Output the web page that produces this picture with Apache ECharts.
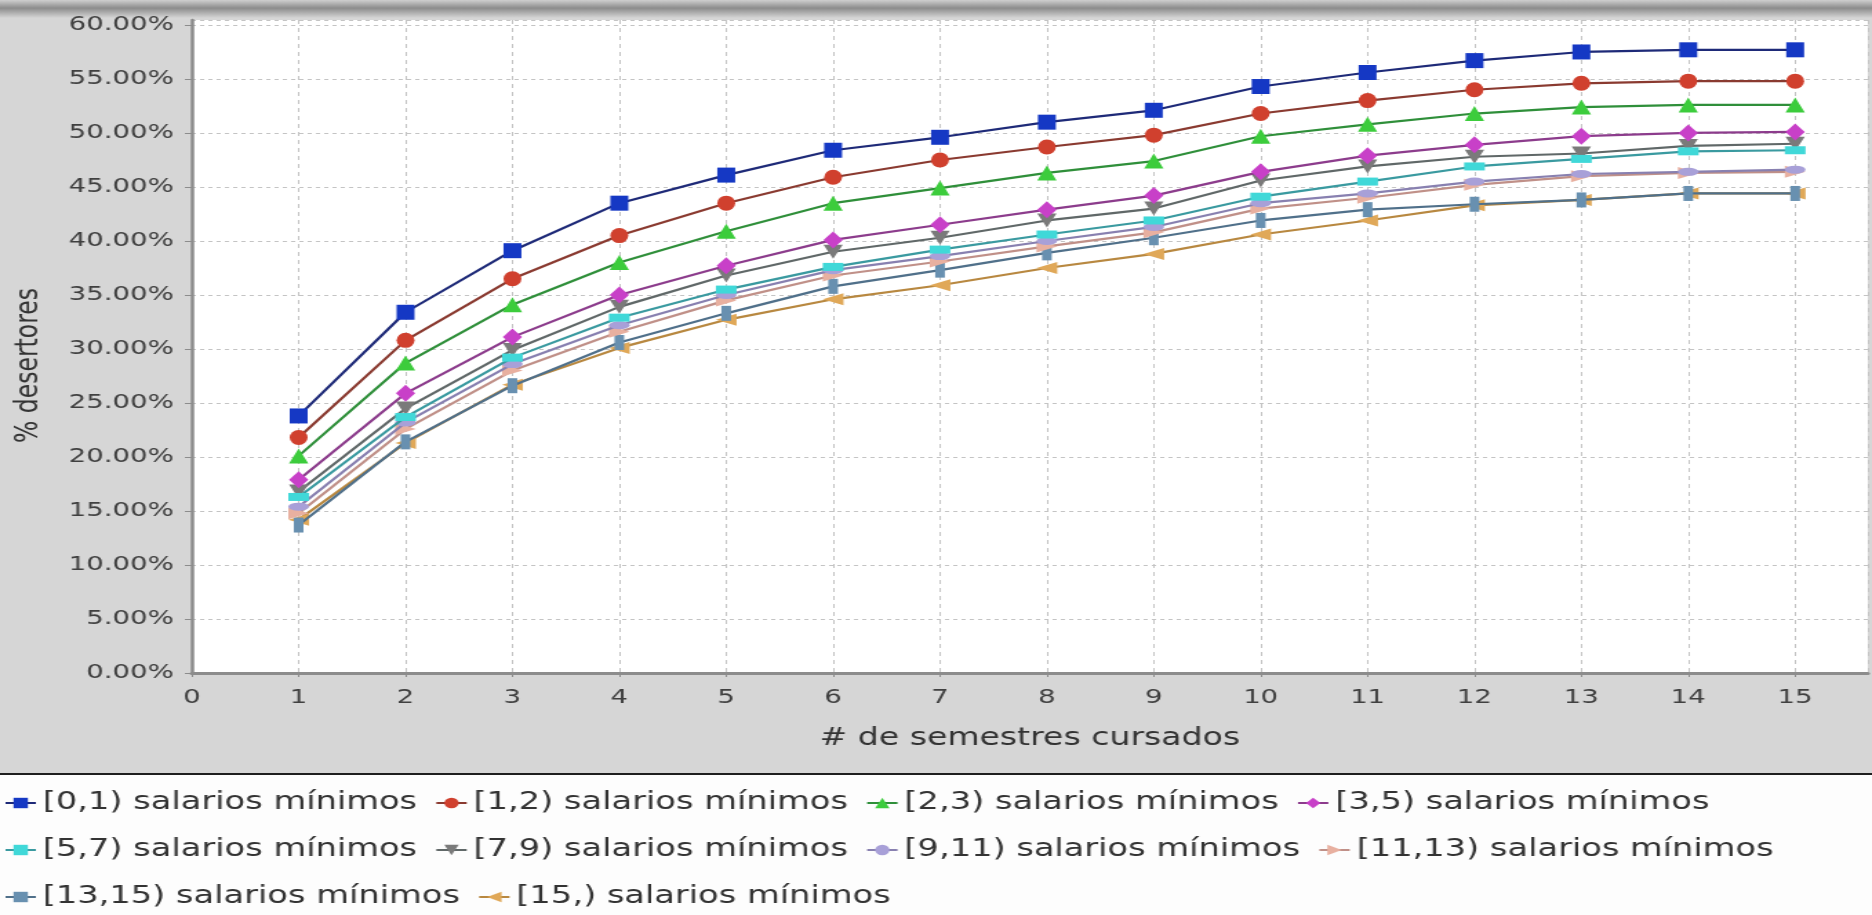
<!DOCTYPE html>
<html>
<head>
<meta charset="utf-8">
<script src="https://cdn.jsdelivr.net/npm/echarts@6/dist/echarts.min.js"></script>
<style>
html,body{margin:0;padding:0;overflow:hidden;background:#fff;}
#chart{width:1357px;height:915px;transform:scaleX(1.3795);transform-origin:0 0;}
</style>
</head>
<body>
<div id="chart"></div>
<script>
// ---- data ----
const semesters = [1,2,3,4,5,6,7,8,9,10,11,12,13,14,15];
const seriesNames = [
  '[0,1) salarios mínimos','[1,2) salarios mínimos','[2,3) salarios mínimos','[3,5) salarios mínimos',
  '[5,7) salarios mínimos','[7,9) salarios mínimos','[9,11) salarios mínimos','[11,13) salarios mínimos',
  '[13,15) salarios mínimos','[15,) salarios mínimos'
];
const s0_1   = [23.8,33.4,39.1,43.5,46.1,48.4,49.6,51.0,52.1,54.3,55.6,56.7,57.5,57.7,57.7];
const s1_2   = [21.8,30.8,36.5,40.5,43.5,45.9,47.5,48.7,49.8,51.8,53.0,54.0,54.6,54.8,54.8];
const s2_3   = [20.1,28.7,34.1,38.0,40.9,43.5,44.9,46.3,47.4,49.7,50.8,51.8,52.4,52.6,52.6];
const s3_5   = [17.9,25.9,31.1,35.0,37.7,40.1,41.5,42.9,44.2,46.4,47.9,48.9,49.7,50.0,50.1];
const s5_7   = [16.3,23.7,29.2,32.9,35.5,37.6,39.2,40.6,41.9,44.1,45.5,46.9,47.6,48.3,48.4];
const s7_9   = [16.8,24.5,29.9,33.9,36.8,39.0,40.3,41.9,43.0,45.6,46.9,47.8,48.1,48.8,49.0];
const s9_11  = [15.4,23.2,28.6,32.2,35.0,37.3,38.6,40.0,41.3,43.5,44.4,45.5,46.2,46.4,46.6];
const s11_13 = [14.8,22.6,28.0,31.6,34.5,36.8,38.1,39.5,40.8,43.0,44.0,45.2,46.0,46.3,46.4];
const s13_15 = [13.7,21.4,26.6,30.6,33.3,35.8,37.3,38.9,40.3,41.9,42.9,43.4,43.8,44.4,44.4];
const s15_   = [14.2,21.3,26.7,30.1,32.7,34.6,35.9,37.5,38.8,40.6,41.9,43.3,43.8,44.4,44.4];
const seriesValues = [s0_1,s1_2,s2_3,s3_5,s5_7,s7_9,s9_11,s11_13,s13_15,s15_];
const yTicks = {min:0, max:60.46, interval:5};
const xTicks = {min:0, max:15.68, interval:1};

// ---- styles ----
const markerColors = ['#1538c4','#d0402e','#3ccc3c','#c840c8','#40d8d8','#7a7a7a','#a8a0d8','#e8b0a0','#6890b0','#e0a858'];
const lineColors   = ['#1e2a78','#8a3a30','#2f8f3a','#8c3c8c','#3a9aa0','#606868','#8880b0','#c09088','#50708a','#b88840'];
const symbols = [
  {s:'rect', size:[13,15], r:0},
  {s:'circle', size:[13,15], r:0},
  {s:'triangle', size:[14,15], r:0},
  {s:'diamond', size:[14,17], r:0},
  {s:'rect', size:[15,8], r:0},
  {s:'triangle', size:[14,14], r:180},
  {s:'circle', size:[15,8], r:0},
  {s:'triangle', size:[12,15], r:-90},
  {s:'rect', size:[7,15], r:0},
  {s:'triangle', size:[12,15], r:90}
];
const FONT = 'DejaVu Sans';
const W = 1357;

const series = seriesValues.map((vals, i) => ({
  name: seriesNames[i],
  type: 'line',
  data: semesters.map((x, j) => [x, vals[j]]),
  symbol: symbols[i].s,
  symbolSize: symbols[i].size,
  symbolRotate: symbols[i].r,
  showAllSymbol: true,
  z: 20 - i,
  lineStyle: {color: lineColors[i], width: 2.2},
  itemStyle: {color: markerColors[i], borderWidth: 0},
  emphasis: {disabled: true}
}));

const chart = echarts.init(document.getElementById('chart'), null, {renderer: 'canvas'});
chart.setOption({
  animation: false,
  backgroundColor: '#fdfdfd',
  graphic: [
    {type:'rect', z:-10, silent:true, shape:{x:0,y:0,width:W,height:774}, style:{fill:'#d6d6d6'}},
    {type:'rect', z:-9, silent:true, shape:{x:0,y:0,width:W,height:18},
      style:{fill:new echarts.graphic.LinearGradient(0,0,0,1,[
        {offset:0,color:'#cfcfcf'},{offset:0.45,color:'#8c8c8c'},{offset:1,color:'#d6d6d6'}])}},
    {type:'rect', z:-9, silent:true, shape:{x:0,y:773,width:W,height:2}, style:{fill:'#1e1e1e'}}
  ],
  grid: {left:139, right:3, top:20, bottom:242, show:true, backgroundColor:'#ffffff', borderWidth:0},
  xAxis: {
    type:'value', min:xTicks.min, max:xTicks.max, interval:xTicks.interval,
    name:'# de semestres cursados', nameLocation:'middle', nameGap:54,
    nameTextStyle:{fontFamily:FONT, fontSize:24, color:'#333'},
    axisLine:{show:true, onZero:false, lineStyle:{color:'#8c8c8c', width:3}},
    axisTick:{show:true, length:4, lineStyle:{color:'#8c8c8c'}},
    axisLabel:{fontFamily:FONT, fontSize:20, color:'#404040', margin:15, showMaxLabel:false},
    splitLine:{show:true, lineStyle:{color:'#c4c4c4', type:[4,4], width:1}}
  },
  yAxis: {
    type:'value', min:yTicks.min, max:yTicks.max, interval:yTicks.interval,
    name:'% desertores', nameLocation:'middle', nameRotate:90, nameGap:106,
    nameTextStyle:{fontFamily:FONT, fontSize:23.5, color:'#333', padding:[0,38,0,0]},
    axisLine:{show:true, lineStyle:{color:'#8c8c8c', width:2.5}},
    axisTick:{show:true, length:5, lineStyle:{color:'#8c8c8c'}},
    axisLabel:{fontFamily:FONT, fontSize:20, color:'#404040', margin:13, showMaxLabel:false,
      formatter: v => v.toFixed(2) + '%'},
    splitLine:{show:true, lineStyle:{color:'#c4c4c4', type:[3,3], width:1}}
  },
  legend: {
    type:'plain', left:3, top:786, width:1345, padding:0,
    itemGap:13, itemWidth:22, itemHeight:13, selectedMode:false,
    align:'left',
    textStyle:{fontFamily:FONT, fontSize:24.4, color:'#333', lineHeight:34},
    data: seriesNames
  },
  tooltip:{show:false},
  series: series
});
</script>
</body>
</html>
